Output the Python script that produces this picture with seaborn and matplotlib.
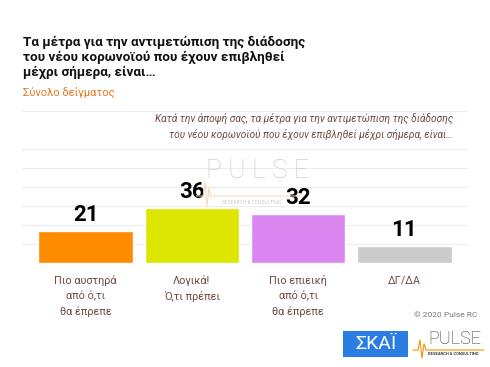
import matplotlib
matplotlib.use("Agg")
import matplotlib.pyplot as plt
import seaborn as sns
import pandas as pd
from matplotlib.patches import Rectangle

categories = ["Πιο αυστηρά\nαπό ό,τι\nθα έπρεπε", "Λογικά!\nΌ,τι πρέπει",
              "Πιο επιεική\nαπό ό,τι\nθα έπρεπε", "ΔΓ/ΔΑ"]
values = [21, 36, 32, 11]
colors = ["#FF8C00", "#DCE600", "#DA87F2", "#CBCBCB"]

title = "Τα μέτρα για την αντιμετώπιση της διάδοσης\nτου νέου κορωνοϊού που έχουν επιβληθεί\nμέχρι σήμερα, είναι…"
subtitle = "Σύνολο δείγματος"
question = "Κατά την άποψή σας, τα μέτρα για την αντιμετώπιση της διάδοσης\nτου νέου κορωνοϊού που έχουν επιβληθεί μέχρι σήμερα, είναι…"
credit = "© 2020 Pulse RC"

sns.set_theme(style="white")
plt.rcParams['font.family'] = ['Roboto', 'DejaVu Sans']

W, H = 490, 367
fig = plt.figure(figsize=(4.9, 3.67), dpi=100)
fig.patch.set_facecolor("white")
ax = fig.add_axes([22 / W, 1 - 263 / H, 446 / W, 152 / H])

df = pd.DataFrame({"cat": categories, "val": values})
sns.barplot(data=df, x="cat", y="val", hue="cat", palette=colors,
            legend=False, width=0.89, saturation=1, ax=ax, zorder=2)
ax.set_xlim(-0.6, 3.6)
ax.set_ylim(0, 100)
ax.set_yticks([i * 12.5 for i in range(9)])
ax.yaxis.grid(True, color="#ececec", linewidth=0.8, zorder=0)
ax.set_axisbelow(True)
for s in ax.spines.values():
    s.set_visible(False)
ax.set_xlabel("")
ax.set_ylabel("")
ax.set_yticklabels([])
ax.tick_params(axis="y", length=0)
ax.tick_params(axis="x", length=0, pad=9)
for lab in ax.get_xticklabels():
    lab.set_color("#6e4a40")
    lab.set_fontsize(7.8)
    lab.set_linespacing(1.5)

for i, v in enumerate(values):
    ax.annotate(str(v), (i, v), xytext=(0, 4), textcoords="offset points",
                ha="center", va="bottom", fontsize=16, fontweight="bold",
                color="black", zorder=5)

# question text box (covers gridlines)
fig.patches.append(Rectangle((22 / W, 1 - 146 / H), 446 / W, 34 / H,
                             transform=fig.transFigure, facecolor="white",
                             edgecolor="none", zorder=3))
fig.text(453 / W, 1 - 126 / H, question, ha="right", va="center",
         fontsize=7.3, style="italic", color="#6e4a40", linespacing=1.5, zorder=4)

# title
fig.text(23 / W, 1 - 36 / H, title, ha="left", va="top", fontsize=9.7,
         fontweight="bold", color="#111111", linespacing=1.18)
fig.text(23 / W, 1 - 93 / H, subtitle, ha="left", va="center", fontsize=8,
         color="#E87722")

# watermark
fig.text(257 / W, 1 - 171 / H, "P U L S E", ha="center", va="center", fontsize=19,
         fontweight="light", color="#cfcfcf", zorder=1)
fig.text(252 / W, 1 - 202 / H, "RESEARCH & CONSULTING", ha="center", va="center",
         fontsize=3.5, color="#cccccc", zorder=1)
fig.lines.append(plt.Line2D([196 / W, 203 / W, 205 / W, 207 / W, 209 / W, 211 / W, 214 / W, 300 / W],
                            [1 - 196 / H, 1 - 196 / H, 1 - 182 / H, 1 - 206 / H, 1 - 188 / H, 1 - 196 / H, 1 - 196 / H, 1 - 196 / H],
                            transform=fig.transFigure, color="#F8D6B0", linewidth=0.7, zorder=1))

# credit
fig.text(477 / W, 1 - 315 / H, credit, ha="right", va="center", fontsize=6,
         color="#777777")

# logos
fig.patches.append(Rectangle((343 / W, 1 - 357 / H), 65 / W, 26 / H,
                             transform=fig.transFigure, facecolor="#2A7DE1",
                             edgecolor="none"))
fig.text(375.5 / W, 1 - 344 / H, "ΣΚΑΪ", ha="center", va="center", fontsize=14,
         color="white")
fig.text(428 / W, 1 - 339 / H, "PULSE", ha="left", va="center", fontsize=13,
         color="#3a3a3a", fontweight="light")
fig.text(428 / W, 1 - 354 / H, "RESEARCH & CONSULTING", ha="left", va="center",
         fontsize=3, color="#3a3a3a", fontweight="bold")
fig.lines.append(plt.Line2D([413 / W, 418 / W, 420 / W, 422 / W, 424 / W, 426 / W, 430 / W, 484 / W],
                            [1 - 350 / H, 1 - 350 / H, 1 - 340 / H, 1 - 358 / H, 1 - 344 / H, 1 - 350 / H, 1 - 350 / H, 1 - 350 / H],
                            transform=fig.transFigure, color="#F39200", linewidth=0.8))

fig.savefig("out.png", dpi=100, facecolor="white")
